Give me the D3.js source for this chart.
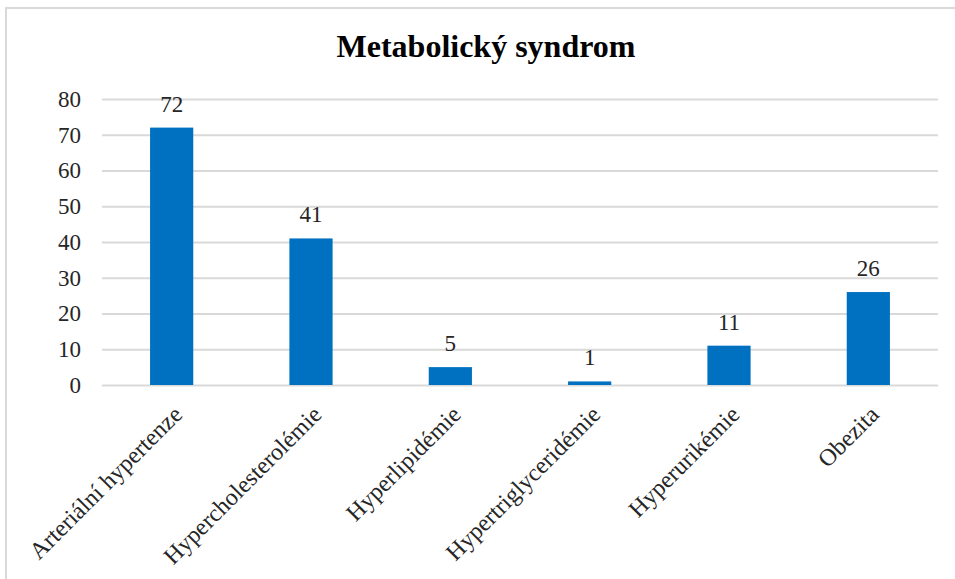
<!DOCTYPE html>
<html>
<head>
<meta charset="utf-8">
<script src="https://cdn.jsdelivr.net/npm/d3@7"></script>
<style>
  html, body { margin: 0; padding: 0; background: #fff; }
  svg { display: block; }
  text { font-family: "Liberation Serif", "Times New Roman", serif; fill: #262626; }
</style>
</head>
<body>
<svg id="chart" width="955" height="579"></svg>
<script>
const categories = ["Arteriální hypertenze", "Hypercholesterolémie", "Hyperlipidémie",
                    "Hypertriglyceridémie", "Hyperurikémie", "Obezita"];
const values = [72, 41, 5, 1, 11, 26];
const yTicks = [0, 10, 20, 30, 40, 50, 60, 70, 80];
const title = "Metabolický syndrom";

const svg = d3.select("#chart");
const W = 955, H = 579;
const plot = { left: 102, right: 938, top: 99, bottom: 385 };
const labelFont = 23;

// outer chart frame
svg.append("rect")
  .attr("x", 6).attr("y", 8)
  .attr("width", W + 10).attr("height", H + 10)
  .attr("fill", "#fff")
  .attr("stroke", "#d9d9d9").attr("stroke-width", 2);

const x = d3.scaleBand().domain(categories).range([plot.left, plot.right]).paddingInner(0.69).paddingOuter(0.345);
const y = d3.scaleLinear().domain([0, 80]).range([plot.bottom, plot.top]);

// title
svg.append("text")
  .attr("x", 486).attr("y", 57)
  .attr("text-anchor", "middle")
  .attr("font-size", 32).attr("font-weight", "bold")
  .style("fill", "#000")
  .text(title);

// gridlines + y labels via axis
const yAxis = d3.axisLeft(y).tickValues(yTicks).tickSize(-(plot.right - plot.left)).tickPadding(21);
const gy = svg.append("g").attr("transform", `translate(${plot.left},0)`).call(yAxis);
gy.select(".domain").remove();
gy.selectAll(".tick line").attr("stroke", "#d9d9d9").attr("stroke-width", 2);
gy.selectAll(".tick text")
  .attr("font-size", labelFont)
  .style("font-family", "'Liberation Serif', 'Times New Roman', serif")
  .style("fill", "#262626");

// bars
svg.append("g").selectAll("rect")
  .data(values)
  .join("rect")
  .attr("x", (d, i) => x(categories[i]))
  .attr("width", x.bandwidth())
  .attr("y", d => y(d))
  .attr("height", d => y(0) - y(d))
  .attr("fill", "#0070c0");

// value labels
svg.append("g").selectAll("text")
  .data(values)
  .join("text")
  .attr("x", (d, i) => x(categories[i]) + x.bandwidth() / 2)
  .attr("y", d => y(d) - 16)
  .attr("text-anchor", "middle")
  .attr("font-size", labelFont)
  .text(d => d);

// rotated category labels
const xAxis = d3.axisBottom(x).tickSize(0).tickPadding(0);
const gx = svg.append("g").attr("transform", `translate(0,${plot.bottom})`).call(xAxis);
gx.select(".domain").remove();
gx.selectAll(".tick text")
  .attr("font-size", 24)
  .style("font-family", "'Liberation Serif', 'Times New Roman', serif")
  .style("fill", "#262626")
  .attr("text-anchor", "end")
  .attr("dy", null).attr("y", 0)
  .attr("transform", "translate(12,31) rotate(-45)");
</script>
</body>
</html>
